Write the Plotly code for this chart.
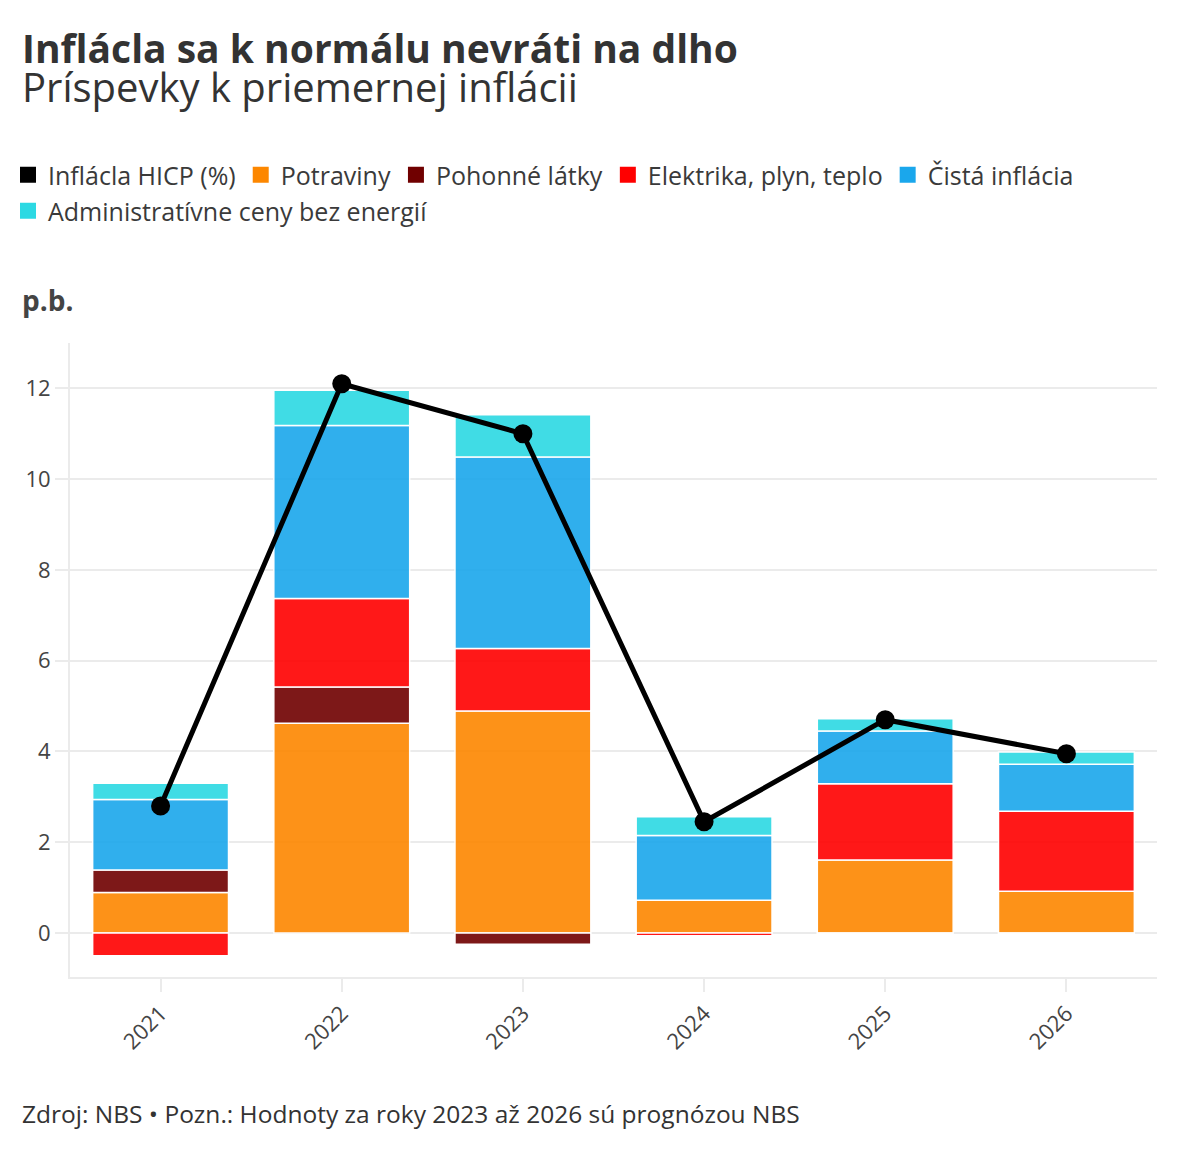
import plotly.graph_objects as go

years = ["2021", "2022", "2023", "2024", "2025", "2026"]
potraviny = [0.89, 4.62, 4.89, 0.72, 1.61, 0.92]
pohonne = [0.50, 0.80, -0.25, 0.00, -0.03, -0.03]
elektrika = [-0.50, 1.95, 1.38, -0.06, 1.68, 1.76]
cista = [1.55, 3.81, 4.22, 1.43, 1.16, 1.04]
admin = [0.36, 0.78, 0.93, 0.41, 0.27, 0.27]
hicp = [2.8, 12.1, 11.0, 2.45, 4.7, 3.95]

series = [
    ("Potraviny", potraviny, "#fd8700"),
    ("Pohonné látky", pohonne, "#700000"),
    ("Elektrika, plyn, teplo", elektrika, "#ff0000"),
    ("Čistá inflácia", cista, "#1aa7ec"),
    ("Administratívne ceny bez energií", admin, "#2cd9e3"),
]

TITLE = "Inflácla sa k normálu nevráti na dlho"
SUBTITLE = "Príspevky k priemernej inflácii"
UNIT = "p.b."
SOURCE = "Zdroj: NBS • Pozn.: Hodnoty za roky 2023 až 2026 sú prognózou NBS"

FONT = "Open Sans"
TXT = "#3a3a3a"

fig = go.Figure()

# legend-only entries (square swatches), split over two legend rows
fig.add_trace(go.Scatter(x=[None], y=[None], mode="markers", name="Inflácla HICP (%)",
                         legend="legend",
                         marker=dict(symbol="square", size=16, color="#000000")))
for i, (name, vals, col) in enumerate(series):
    fig.add_trace(go.Scatter(x=[None], y=[None], mode="markers", name=name,
                             legend="legend2" if i == len(series) - 1 else "legend",
                             marker=dict(symbol="square", size=16, color=col)))

for name, vals, col in series:
    fig.add_trace(go.Bar(x=years, y=vals, name=name, showlegend=False,
                         marker=dict(color=col, opacity=0.9, line=dict(color="white", width=1.5))))

fig.add_trace(go.Scatter(x=years, y=hicp, mode="lines+markers", name="Inflácla HICP (%)",
                         showlegend=False,
                         line=dict(color="black", width=5),
                         marker=dict(color="black", size=19)))

# page is offset by the 8px body margin of the html page
L, R, T, B = 62, 43, 335, 173
W, H = 1192, 1142
ph = H - T - B
pw = W - L - R

def py(p):
    # page pixel y -> paper coordinate
    return (H - B - (p - 8)) / ph

def px(p):
    # page pixel x -> paper coordinate
    return (p - 8 - L) / pw

leg_font = dict(size=25, color=TXT, family=FONT)

head = (f"<b><span style='font-size:39px'>{TITLE}</span></b><br>"
        f"<span style='font-size:40px'>{SUBTITLE}</span>")

fig.update_layout(
    width=W, height=H,
    margin=dict(l=L, r=R, t=T, b=B, autoexpand=False),
    paper_bgcolor="white", plot_bgcolor="white",
    barmode="relative", bargap=0.25,
    font=dict(family=FONT, color=TXT),
    legend=dict(orientation="h", x=px(8), xanchor="left", y=py(152), yanchor="top",
                font=leg_font, itemsizing="trace", bgcolor="rgba(0,0,0,0)"),
    legend2=dict(orientation="h", x=px(8), xanchor="left", y=py(188), yanchor="top",
                 font=leg_font, itemsizing="trace", bgcolor="rgba(0,0,0,0)"),
    xaxis=dict(type="category", showgrid=False, showline=True, linecolor="#ebebeb", linewidth=2,
               ticks="outside", ticklen=13, tickcolor="#ebebeb", tickwidth=2, automargin=False,
               tickangle=-45, tickfont=dict(size=22, color="#444444"), zeroline=False),
    yaxis=dict(range=[-0.97, 13.0], tickvals=[0, 2, 4, 6, 8, 10, 12], showgrid=True,
               gridcolor="#ebebeb", gridwidth=2, zeroline=False, showline=True, automargin=False,
               linecolor="#ebebeb", linewidth=2, ticks="outside", ticklen=13,
               tickcolor="#ebebeb", tickwidth=2, tickfont=dict(size=22, color="#444444")),
    annotations=[
        dict(text=head, xref="paper", yref="paper", align="left",
             x=px(20), y=py(67), xanchor="left", yanchor="middle", showarrow=False,
             font=dict(size=30, color="#333333", family=FONT)),
        dict(text=f"<b>{UNIT}</b>", xref="paper", yref="paper",
             x=px(20), y=py(300), xanchor="left", yanchor="middle", showarrow=False,
             font=dict(size=28, color="#444444", family=FONT)),
        dict(text=SOURCE,
             xref="paper", yref="paper", x=px(20), y=py(1113), xanchor="left", yanchor="middle",
             showarrow=False, font=dict(size=24.5, color="#333333", family=FONT)),
    ],
)

fig.write_html("out.html")
